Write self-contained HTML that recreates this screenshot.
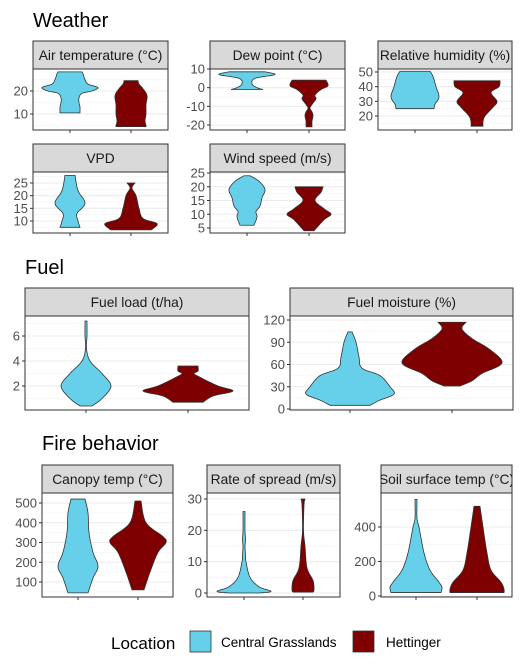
<!DOCTYPE html>
<html><head><meta charset="utf-8">
<style>
body{margin:0;background:#fff;}
svg{display:block;font-family:"Liberation Sans",Arial,sans-serif;}
</style></head>
<body>
<svg id="chart" width="528" height="672" viewBox="0 0 528 672"></svg>
<script>
// ---- data (value grid and relative density, per violin) ----
const airCGy=[28.3,27.5,25,23,21.5,20,19,17,15,13,11.5,10.5];
const airCGd=[12,13,15,18,28,22,12,9,9,10,10,10];
const airHEy=[24.5,23,21,18,14,10,7,5,4.5];
const airHEd=[7,8,12,16,15,15,14,15,15];
const dewCGy=[8.5,7,5,2,0,-1];
const dewCGd=[18,28,8,5,10,16];
const dewHEy=[4,1,-1,-4,-6,-9,-11,-13,-15,-18,-21];
const dewHEd=[17,19,12,6,7,3,1,3,4,3,3];
const rhCGy=[50.5,47,40,33,28,25];
const rhCGd=[15,18,21,24,20,19];
const rhHEy=[44,40,36,30,26,20,16,13];
const rhHEd=[23,22,14,20,16,8,6,6];
const vpdCGy=[28,22,17,13,10,7.5];
const vpdCGd=[5,8,15,7,8,10];
const vpdHEy=[25,23,20,15,11,9,7,6.5];
const vpdHEd=[4,1,5,8,12,26,22,20];
const windCGy=[24,22,19,16,13,11,9,6];
const windCGd=[3,12,18,15,13,9,10,7];
const windHEy=[20,18,15,12,10,8,4];
const windHEd=[14,12,6,15,22,15,5];
const loadCGy=[7.2,6,5,4,3,2,1,0.4];
const loadCGd=[1,1,0.5,4,16,25,16,6];
const loadHEy=[3.6,3.2,3,2.7,2,1.6,1.2,0.7];
const loadHEd=[10,10,6,12,30,45,25,15];
const moistCGy=[104,90,70,55,45,30,20,12,5];
const moistCGd=[2,6,9,12,30,40,44,30,20];
const moistHEy=[117,108,95,80,62,48,38,31];
const moistHEd=[14,10,20,38,50,30,20,8];
const canCGy=[520,450,350,250,180,120,45];
const canCGd=[7,10,11,15,20,15,10];
const canHEy=[510,400,330,300,250,150,60];
const canHEd=[3,8,25,28,20,12,6];
const rosCGy=[26,20,17,15,12,10,5,2,0.5,0];
const rosCGd=[1,1,1.5,1,1.5,2,6,15,27,15];
const rosHEy=[30,28,20,15,8,4,1,0.3];
const rosHEd=[2,1,0.5,2,4,10,11,10];
const soilCGy=[560,450,400,250,150,80,50,20];
const soilCGd=[1,1,3,8,14,23,26,25];
const soilHEy=[520,400,250,150,80,40,20];
const soilHEd=[3,6,10,14,24,27,27];

const panels=[
 {name:"air-temperature",title:"Air temperature (°C)",x0:33,x1:168,s0:41,p0:69,p1:130,v0:20,y0:91,v1:10,y1:114,ticks:[10,20],minor:[5,15,25],c:[70,131],cg:[airCGy,airCGd],he:[airHEy,airHEd]},
 {name:"dew-point",title:"Dew point (°C)",x0:210,x1:345,s0:41,p0:69,p1:130,v0:10,y0:69,v1:-20,y1:125,ticks:[-20,-10,0,10],minor:[-15,-5,5],c:[247,309],cg:[dewCGy,dewCGd],he:[dewHEy,dewHEd]},
 {name:"relative-humidity",title:"Relative humidity (%)",x0:378,x1:512,s0:41,p0:69,p1:130,v0:50,y0:72,v1:20,y1:116,ticks:[20,30,40,50],minor:[15,25,35,45],c:[415,477],cg:[rhCGy,rhCGd],he:[rhHEy,rhHEd]},
 {name:"vpd",title:"VPD",x0:33,x1:168,s0:144,p0:172,p1:233,v0:25,y0:183,v1:10,y1:221,ticks:[10,15,20,25],minor:[7.5,12.5,17.5,22.5,27.5],c:[70,131],cg:[vpdCGy,vpdCGd],he:[vpdHEy,vpdHEd]},
 {name:"wind-speed",title:"Wind speed (m/s)",x0:210,x1:345,s0:144,p0:172,p1:233,v0:25,y0:173,v1:5,y1:228,ticks:[5,10,15,20,25],minor:[7.5,12.5,17.5,22.5],c:[247,309],cg:[windCGy,windCGd],he:[windHEy,windHEd]},
 {name:"fuel-load",title:"Fuel load (t/ha)",x0:25,x1:249,s0:288,p0:316,p1:410,v0:6,y0:336,v1:2,y1:386,ticks:[2,4,6],minor:[1,3,5,7],c:[86,188],cg:[loadCGy,loadCGd],he:[loadHEy,loadHEd]},
 {name:"fuel-moisture",title:"Fuel moisture (%)",x0:290,x1:513,s0:288,p0:316,p1:410,v0:120,y0:320,v1:0,y1:409,ticks:[0,30,60,90,120],minor:[15,45,75,105],c:[350,452],cg:[moistCGy,moistCGd],he:[moistHEy,moistHEd]},
 {name:"canopy-temp",title:"Canopy temp (°C)",x0:42,x1:173,s0:465,p0:493,p1:597,v0:500,y0:503,v1:100,y1:582,ticks:[100,200,300,400,500],minor:[50,150,250,350,450],c:[78,138],cg:[canCGy,canCGd],he:[canHEy,canHEd]},
 {name:"rate-of-spread",title:"Rate of spread (m/s)",x0:207,x1:340,s0:465,p0:493,p1:597,v0:30,y0:499,v1:0,y1:593,ticks:[0,10,20,30],minor:[5,15,25],c:[244,303],cg:[rosCGy,rosCGd],he:[rosHEy,rosHEd]},
 {name:"soil-surface-temp",title:"Soil surface temp (°C)",x0:381,x1:512,s0:465,p0:493,p1:597,v0:400,y0:527,v1:0,y1:596,ticks:[0,200,400],minor:[100,300,500],c:[416,477],cg:[soilCGy,soilCGd],he:[soilHEy,soilHEd]}
];
const CG="#66d0ea", HE="#7f0000";
const NS="http://www.w3.org/2000/svg";
const svg=document.getElementById('chart');
function mk(tag,attrs,parent){const e=document.createElementNS(NS,tag);for(const k in attrs)e.setAttribute(k,attrs[k]);(parent||svg).appendChild(e);return e;}
function txt(x,y,s,size,anchor,fill,parent){const t=mk('text',{x:x,y:y,'font-size':size,'text-anchor':anchor||'start',fill:fill||'#000'},parent);t.textContent=s;return t;}

// Catmull-Rom sample of (y,w) pairs
function smooth(ys,ws){
 const out=[];const n=ys.length;
 for(let i=0;i<n-1;i++){
  const p0=i>0?i-1:i, p3=i+2<n?i+2:i+1;
  for(let s=0;s<8;s++){
   const t=s/8,t2=t*t,t3=t2*t;
   const f=(a,b,c,d)=>0.5*((2*b)+(-a+c)*t+(2*a-5*b+4*c-d)*t2+(-a+3*b-3*c+d)*t3);
   out.push([f(ys[p0],ys[i],ys[i+1],ys[p3]),Math.max(0.4,f(ws[p0],ws[i],ws[i+1],ws[p3]))]);
  }
 }
 out.push([ys[n-1],ws[n-1]]);
 return out;
}

const st=[["Weather",33,27],["Fuel",25,274],["Fire behavior",42,450]];
st.forEach(s=>{const t=txt(s[1],s[2],s[0],20);

});

panels.forEach(p=>{
 const g=mk('g',{});
 
 
 const sy=v=>p.y0+(v-p.v0)*(p.y1-p.y0)/(p.v1-p.v0);
 const defs=mk('clipPath',{id:'cl-'+p.name},g);
 mk('rect',{x:p.x0,y:p.p0,width:p.x1-p.x0,height:p.p1-p.p0},defs);
 const grid=mk('g',{'clip-path':'url(#cl-'+p.name+')'},g);
 p.minor.forEach(v=>mk('line',{x1:p.x0,x2:p.x1,y1:sy(v),y2:sy(v),stroke:'#f0f0f0','stroke-width':0.6},grid));
 p.ticks.forEach(v=>mk('line',{x1:p.x0,x2:p.x1,y1:sy(v),y2:sy(v),stroke:'#ebebeb','stroke-width':1.1},grid));
 [[p.cg,CG,'central-grasslands'],[p.he,HE,'hettinger']].forEach((vv,i)=>{
   const ys=vv[0][0], ds=vv[0][1], cx=p.c[i];
   const sm=smooth(ys,ds);
   let pts=[];
   for(let k=0;k<sm.length;k++)pts.push((cx+sm[k][1]).toFixed(2)+','+sy(sm[k][0]).toFixed(2));
   for(let k=sm.length-1;k>=0;k--)pts.push((cx-sm[k][1]).toFixed(2)+','+sy(sm[k][0]).toFixed(2));
   const poly=mk('polygon',{points:pts.join(' '),fill:vv[1],stroke:'#333','stroke-width':0.8},grid);
   
   
   mk('line',{x1:cx,x2:cx,y1:p.p1,y2:p.p1+3,stroke:'#333','stroke-width':1},g);
 });
 mk('rect',{x:p.x0,y:p.p0,width:p.x1-p.x0,height:p.p1-p.p0,fill:'none',stroke:'#333','stroke-width':1},g);
 const strip=mk('rect',{x:p.x0,y:p.s0,width:p.x1-p.x0,height:p.p0-p.s0,fill:'#d9d9d9',stroke:'#333','stroke-width':1},g);
 
 
 const sc=mk('clipPath',{id:'sc-'+p.name},g);
 mk('rect',{x:p.x0,y:p.s0,width:p.x1-p.x0,height:p.p0-p.s0},sc);
 const st=txt((p.x0+p.x1)/2,(p.s0+p.p0)/2+5,p.title,13.8,'middle','#1a1a1a',g);
 st.setAttribute('clip-path','url(#sc-'+p.name+')');
 
 
 p.ticks.forEach(v=>{
   mk('line',{x1:p.x0-3,x2:p.x0,y1:sy(v),y2:sy(v),stroke:'#333','stroke-width':1},g);
   const t=txt(p.x0-5,sy(v)+4.5,String(v),13,'end','#4d4d4d',g);
   
   
 });
});

// legend
const lg=mk('g',{});


txt(111,649,"Location",17,'start','#000',lg);
const k1=mk('rect',{x:190,y:631,width:21,height:21,fill:CG,stroke:'#333','stroke-width':0.8},lg);


txt(221,647,"Central Grasslands",13.5,'start','#000',lg);
const k2=mk('rect',{x:353,y:631,width:21,height:21,fill:HE,stroke:'#333','stroke-width':0.8},lg);


txt(386,647,"Hettinger",13.5,'start','#000',lg);
</script>
</body></html>
